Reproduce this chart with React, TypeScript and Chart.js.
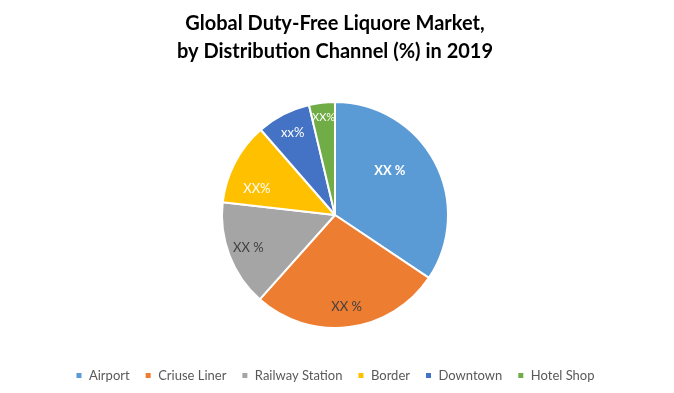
import React, { useEffect, useRef } from "react";
import { Chart, registerables } from "chart.js";

Chart.register(...registerables);

const titleLines = ["Global Duty-Free Liquore Market,", "by Distribution Channel (%) in 2019"];
const categories = ["Airport", "Criuse Liner", "Railway Station", "Border", "Downtown", "Hotel Shop"];
const shares = [34.4, 27.2, 15.2, 11.8, 7.7, 3.7];
const sliceLabels = ["XX %", "XX %", "XX %", "XX%", "xx%", "XX%"];

const colors = ["#5B9BD5", "#ED7D31", "#A5A5A5", "#FFC000", "#4472C4", "#70AD47"];
const labelColors = ["#FFFFFF", "#404040", "#404040", "#FFFFFF", "#FFFFFF", "#FFFFFF"];
const labelRadius = [0.625, 0.82, 0.82, 0.73, 0.82, 0.87];
const labelAngleShift = [-11, 0, 0, -9, 0, 0];
const labelFontSize = [13, 13, 13, 13, 13, 11];
const FONT = "Lato, 'Open Sans', sans-serif";

const sliceLabelPlugin = {
  id: "sliceLabels",
  afterDatasetsDraw(chart: any) {
    const ctx = chart.ctx;
    const meta = chart.getDatasetMeta(0);
    ctx.save();
    ctx.textAlign = "center";
    ctx.textBaseline = "middle";
    meta.data.forEach((arc: any, i: number) => {
      const p = arc.getProps(["x", "y", "startAngle", "endAngle", "outerRadius"], true);
      const mid = (p.startAngle + p.endAngle) / 2 + (labelAngleShift[i] * Math.PI) / 180;
      const r = p.outerRadius * labelRadius[i];
      const x = p.x + Math.cos(mid) * r;
      const y = p.y + Math.sin(mid) * r;
      ctx.fillStyle = labelColors[i];
      ctx.font = `${i === 0 ? "bold " : ""}${labelFontSize[i]}px ${FONT}`;
      ctx.fillText(sliceLabels[i], x, y);
    });
    ctx.restore();
  },
};

export default function App() {
  const ref = useRef<HTMLCanvasElement>(null);
  useEffect(() => {
    document.body.style.margin = "0";
    const chart = new Chart(ref.current!, {
      type: "pie",
      data: {
        labels: categories,
        datasets: [
          {
            data: shares,
            backgroundColor: colors,
            borderColor: "#FFFFFF",
            borderWidth: 2,
          },
        ],
      },
      options: {
        animation: false,
        responsive: false,
        maintainAspectRatio: false,
        layout: { padding: { top: 0, bottom: 1, left: 0, right: 4 } },
        plugins: {
          title: {
            display: true,
            text: titleLines,
            color: "#000000",
            font: { family: FONT, size: 20, weight: "bold", lineHeight: 1.4 },
            padding: { top: 10, bottom: 35 },
          },
          subtitle: {
            display: true,
            position: "bottom",
            weight: 500,
            text: " ",
            font: { size: 1, lineHeight: 1 },
            padding: { top: 0, bottom: 24 },
          },
          legend: {
            position: "bottom",
            weight: 1000,
            labels: {
              boxWidth: 7,
              boxHeight: 7,
              padding: 15,
              color: "#595959",
              font: { family: FONT, size: 13 },
            },
          },
          tooltip: { enabled: false },
        },
      },
      plugins: [sliceLabelPlugin],
    });
    return () => chart.destroy();
  }, []);
  return (
    <div style={{ width: 674, height: 393, background: "#FFFFFF" }}>
      <canvas ref={ref} width={674} height={393} style={{ display: "block" }} />
    </div>
  );
}
